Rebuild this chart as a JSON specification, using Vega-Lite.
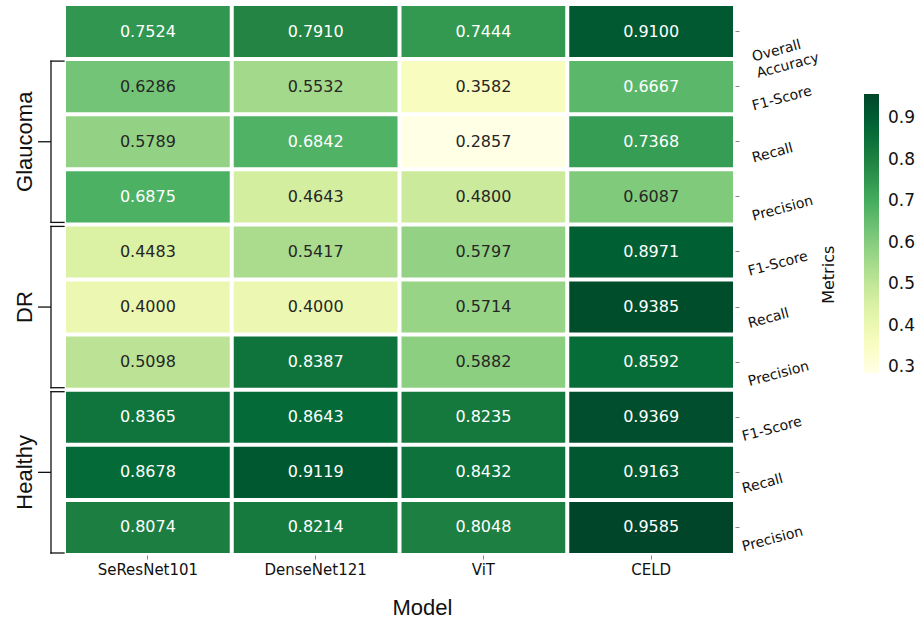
{
  "$schema": "https://vega.github.io/schema/vega-lite/v6.json",
  "padding": {"left": 0, "top": 4, "right": 0, "bottom": 0},
  "background": "white",
  "bounds": "flush",
  "spacing": 0,
  "datasets": {
    "cells": [
      {"model": "SeResNet101", "row": "Overall Accuracy", "value": 0.7524},
      {"model": "DenseNet121", "row": "Overall Accuracy", "value": 0.7910},
      {"model": "ViT", "row": "Overall Accuracy", "value": 0.7444},
      {"model": "CELD", "row": "Overall Accuracy", "value": 0.9100},
      {"model": "SeResNet101", "row": "Glaucoma|F1-Score", "value": 0.6286},
      {"model": "DenseNet121", "row": "Glaucoma|F1-Score", "value": 0.5532},
      {"model": "ViT", "row": "Glaucoma|F1-Score", "value": 0.3582},
      {"model": "CELD", "row": "Glaucoma|F1-Score", "value": 0.6667},
      {"model": "SeResNet101", "row": "Glaucoma|Recall", "value": 0.5789},
      {"model": "DenseNet121", "row": "Glaucoma|Recall", "value": 0.6842},
      {"model": "ViT", "row": "Glaucoma|Recall", "value": 0.2857},
      {"model": "CELD", "row": "Glaucoma|Recall", "value": 0.7368},
      {"model": "SeResNet101", "row": "Glaucoma|Precision", "value": 0.6875},
      {"model": "DenseNet121", "row": "Glaucoma|Precision", "value": 0.4643},
      {"model": "ViT", "row": "Glaucoma|Precision", "value": 0.4800},
      {"model": "CELD", "row": "Glaucoma|Precision", "value": 0.6087},
      {"model": "SeResNet101", "row": "DR|F1-Score", "value": 0.4483},
      {"model": "DenseNet121", "row": "DR|F1-Score", "value": 0.5417},
      {"model": "ViT", "row": "DR|F1-Score", "value": 0.5797},
      {"model": "CELD", "row": "DR|F1-Score", "value": 0.8971},
      {"model": "SeResNet101", "row": "DR|Recall", "value": 0.4000},
      {"model": "DenseNet121", "row": "DR|Recall", "value": 0.4000},
      {"model": "ViT", "row": "DR|Recall", "value": 0.5714},
      {"model": "CELD", "row": "DR|Recall", "value": 0.9385},
      {"model": "SeResNet101", "row": "DR|Precision", "value": 0.5098},
      {"model": "DenseNet121", "row": "DR|Precision", "value": 0.8387},
      {"model": "ViT", "row": "DR|Precision", "value": 0.5882},
      {"model": "CELD", "row": "DR|Precision", "value": 0.8592},
      {"model": "SeResNet101", "row": "Healthy|F1-Score", "value": 0.8365},
      {"model": "DenseNet121", "row": "Healthy|F1-Score", "value": 0.8643},
      {"model": "ViT", "row": "Healthy|F1-Score", "value": 0.8235},
      {"model": "CELD", "row": "Healthy|F1-Score", "value": 0.9369},
      {"model": "SeResNet101", "row": "Healthy|Recall", "value": 0.8678},
      {"model": "DenseNet121", "row": "Healthy|Recall", "value": 0.9119},
      {"model": "ViT", "row": "Healthy|Recall", "value": 0.8432},
      {"model": "CELD", "row": "Healthy|Recall", "value": 0.9163},
      {"model": "SeResNet101", "row": "Healthy|Precision", "value": 0.8074},
      {"model": "DenseNet121", "row": "Healthy|Precision", "value": 0.8214},
      {"model": "ViT", "row": "Healthy|Precision", "value": 0.8048},
      {"model": "CELD", "row": "Healthy|Precision", "value": 0.9585}
    ],
    "braces": [
      {"group": "Glaucoma", "first": "Glaucoma|F1-Score", "mid": "Glaucoma|Recall", "last": "Glaucoma|Precision"},
      {"group": "DR", "first": "DR|F1-Score", "mid": "DR|Recall", "last": "DR|Precision"},
      {"group": "Healthy", "first": "Healthy|F1-Score", "mid": "Healthy|Recall", "last": "Healthy|Precision"}
    ]
  },
  "hconcat": [
    {
      "width": 64,
      "height": 551,
      "data": {"name": "braces"},
      "layer": [
        {
          "mark": {"type": "rule", "color": "#111", "strokeWidth": 1.3, "strokeCap": "square"},
          "encoding": {
            "x": {"datum": "spine", "type": "nominal", "scale": {"type": "point", "domain": ["label", "cusp", "spine", "hook"], "padding": 0.9615, "align": 1}, "axis": null},
            "y": {"field": "first", "type": "nominal", "bandPosition": 0, "scale": {"type": "band", "domain": ["Overall Accuracy", "Glaucoma|F1-Score", "Glaucoma|Recall", "Glaucoma|Precision", "DR|F1-Score", "DR|Recall", "DR|Precision", "Healthy|F1-Score", "Healthy|Recall", "Healthy|Precision"], "paddingInner": 0.0726, "paddingOuter": 0.0363}, "axis": null},
            "y2": {"field": "last", "bandPosition": 1}
          }
        },
        {
          "mark": {"type": "rule", "color": "#111", "strokeWidth": 1.3, "strokeCap": "square"},
          "encoding": {
            "x": {"datum": "spine", "type": "nominal"},
            "x2": {"datum": "hook"},
            "y": {"field": "first", "type": "nominal", "bandPosition": 0}
          }
        },
        {
          "mark": {"type": "rule", "color": "#111", "strokeWidth": 1.3, "strokeCap": "square"},
          "encoding": {
            "x": {"datum": "spine", "type": "nominal"},
            "x2": {"datum": "hook"},
            "y": {"field": "last", "type": "nominal", "bandPosition": 1}
          }
        },
        {
          "mark": {"type": "rule", "color": "#111", "strokeWidth": 1.3},
          "encoding": {
            "x": {"datum": "cusp", "type": "nominal"},
            "x2": {"datum": "spine"},
            "y": {"field": "mid", "type": "nominal"}
          }
        },
        {
          "mark": {"type": "text", "angle": 270, "font": "Liberation Sans", "fontSize": 22, "color": "#111", "baseline": "middle", "align": "center"},
          "encoding": {
            "x": {"datum": "label", "type": "nominal"},
            "y": {"field": "mid", "type": "nominal"},
            "text": {"field": "group"}
          }
        }
      ]
    },
    {
      "width": 671,
      "height": 551,
      "data": {"name": "cells"},
      "encoding": {
        "x": {
          "field": "model", "type": "nominal",
          "scale": {"type": "band", "domain": ["SeResNet101", "DenseNet121", "ViT", "CELD"], "paddingInner": 0.0238, "paddingOuter": 0.0119},
          "axis": {
            "orient": "bottom", "title": "Model", "titleFont": "Liberation Sans", "titleFontSize": 22, "titleFontWeight": "normal", "titleColor": "#111",
            "titleX": 358, "titleY": 59, "titleBaseline": "alphabetic", "titleAlign": "center", "titleAnchor": null,
            "labelAngle": 0, "labelFont": "DejaVu Sans", "labelFontSize": 15, "labelColor": "#111", "labelPadding": 3,
            "tickSize": 4, "tickColor": "#888", "domain": false, "grid": false
          }
        },
        "y": {
          "field": "row", "type": "nominal",
          "scale": {"type": "band", "domain": ["Overall Accuracy", "Glaucoma|F1-Score", "Glaucoma|Recall", "Glaucoma|Precision", "DR|F1-Score", "DR|Recall", "DR|Precision", "Healthy|F1-Score", "Healthy|Recall", "Healthy|Precision"], "paddingInner": 0.0726, "paddingOuter": 0.0363},
          "axis": {
            "orient": "right", "title": null, "domain": false, "grid": false, "tickSize": 4, "tickColor": "#888",
            "labelFont": "DejaVu Sans", "labelFontSize": 14, "labelColor": "#111", "labelAngle": -15,
            "labelAlign": "left", "labelBaseline": "middle", "labelOverlap": false, "labelBound": false, "labelLimit": 0,
            "labelLineHeight": 17,
            "labelPadding": {"condition": [{"test": "indexof(datum.value, 'DR|') == 0", "value": 9}, {"test": "indexof(datum.value, 'Healthy|') == 0", "value": 3}], "value": 13},
            "labelOffset": {"condition": [{"test": "datum.value == 'Overall Accuracy'", "value": 26}, {"test": "indexof(datum.value, 'Recall') >= 0", "value": 17}], "value": 20},
            "labelExpr": "datum.value == 'Overall Accuracy' ? ['Overall', 'Accuracy'] : split(datum.value, '|')[1]"
          }
        }
      },
      "layer": [
        {
          "mark": {"type": "rect"},
          "encoding": {
            "color": {
              "field": "value", "type": "quantitative",
              "scale": {
                "domain": [0.2857, 0.3698, 0.4539, 0.538, 0.6221, 0.7062, 0.7903, 0.8744, 0.9585],
                "range": ["#ffffe5", "#f7fcb9", "#d9f0a3", "#addd8e", "#78c679", "#41ab5d", "#238443", "#006837", "#004529"],
                "interpolate": "rgb"
              },
              "legend": {
                "orient": "none", "legendX": 821, "legendY": 90, "direction": "vertical",
                "gradientLength": 279, "gradientThickness": 15, "gradientStrokeWidth": 0,
                "values": [0.3, 0.4, 0.5, 0.6, 0.7, 0.8, 0.9], "format": ".1f",
                "labelFont": "DejaVu Sans", "labelFontSize": 17, "labelColor": "#111", "labelOffset": 9,
                "title": "Metrics\u2800",
                "titleOrient": "left", "titleAngle": 270, "titleAnchor": "middle", "titleAlign": "right",
                "titleFont": "DejaVu Sans", "titleFontSize": 16, "titleFontWeight": "normal", "titleColor": "#111", "titlePadding": 26
              }
            }
          }
        },
        {
          "mark": {"type": "text", "font": "DejaVu Sans", "fontSize": 16},
          "encoding": {
            "text": {"field": "value", "type": "quantitative", "format": ".4f"},
            "color": {"condition": {"test": "datum.value < 0.65", "value": "#262626"}, "value": "white"}
          }
        }
      ]
    }
  ],
  "resolve": {"scale": {"x": "independent", "y": "independent"}},
  "config": {"view": {"stroke": null}}
}
